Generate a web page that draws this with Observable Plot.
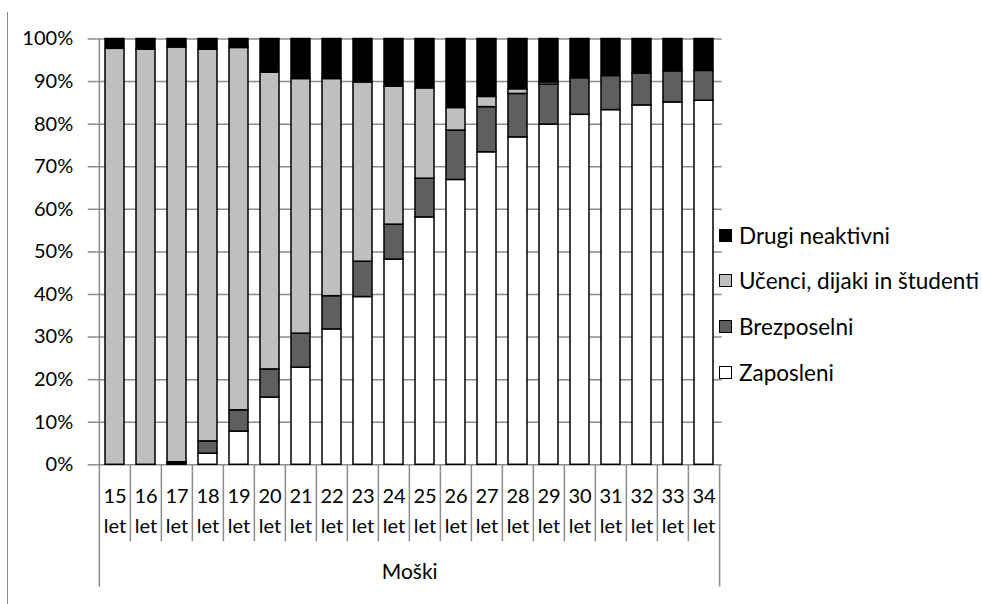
<!DOCTYPE html>
<html>
<head>
<meta charset="utf-8">
<script src="https://cdn.jsdelivr.net/npm/d3@7"></script>
<script src="https://cdn.jsdelivr.net/npm/@observablehq/plot@0.6"></script>
<style>
  html, body { margin: 0; padding: 0; background: #fff; }
  #wrap { position: relative; width: 982px; height: 604px; overflow: hidden; font-family: Lato, "Open Sans", sans-serif; }
  #edge { position: absolute; left: 6.5px; top: 12px; width: 0; height: 600px; border-left: 1.5px solid #8c8c8c; }
  #legend { position: absolute; left: 719px; top: 221px; font-size: 22.5px; color: #000; }
  #legend .item { display: flex; align-items: center; height: 28px; margin-bottom: 17.7px; white-space: nowrap; }
  #legend .sw { width: 11px; height: 11px; border: 1.5px solid #000; margin-right: 7px; box-sizing: content-box; }
</style>
</head>
<body>
<div id="wrap">
  <div id="edge"></div>
  <div id="chart"></div>
  <div id="legend"></div>
</div>
<script>
// Age groups (men), share of each activity status in percent
const ages = ["15","16","17","18","19","20","21","22","23","24","25","26","27","28","29","30","31","32","33","34"];
const zaposleni   = [0, 0, 0.3, 2.6, 7.8, 15.8, 22.8, 31.8, 39.4, 48.2, 58.1, 66.9, 73.4, 76.9, 79.9, 82.2, 83.3, 84.4, 85.1, 85.5];
const brezposelni = [0, 0, 0.3, 2.9, 5.0, 6.6, 8.0, 7.8, 8.3, 8.2, 9.1, 11.6, 10.6, 10.2, 9.4, 8.6, 8.0, 7.5, 7.3, 7.0];
const ucenci      = [97.7, 97.5, 97.4, 92.0, 85.1, 69.7, 59.8, 51.0, 42.1, 32.4, 21.2, 5.3, 2.4, 1.1, 0.5, 0, 0, 0, 0, 0];
const drugi       = [2.3, 2.5, 2.0, 2.5, 2.1, 7.9, 9.4, 9.4, 10.2, 11.2, 11.6, 16.2, 13.6, 11.8, 10.2, 9.2, 8.7, 8.1, 7.6, 7.5];

// Stack order from the bottom up
const statuses = ["Zaposleni", "Brezposelni", "Učenci, dijaki in študenti", "Drugi neaktivni"];
const seriesValues = [zaposleni, brezposelni, ucenci, drugi];
const statusColors = ["#ffffff", "#5f5f5f", "#bfbfbf", "#000000"];
const yTicks = [0, 10, 20, 30, 40, 50, 60, 70, 80, 90, 100];
const groupLabel = "Moški";

const rows = [];
ages.forEach((age, i) => {
  statuses.forEach((s, k) => {
    const v = seriesValues[k][i];
    if (v > 0) rows.push({age, status: s, value: v});
  });
});

const W = 982, H = 604;
const mL = 96.7, mR = W - 721.7, mT = 38.5, mB = H - 464.3;
const step = (W - mL - mR) / ages.length;
const frameH = H - mT - mB;
const gray = "#8c8c8c";

const chart = Plot.plot({
  width: W,
  height: H,
  marginLeft: mL,
  marginRight: mR,
  marginTop: mT,
  marginBottom: mB,
  style: {fontFamily: "Lato, 'Open Sans', sans-serif", fontSize: "20px", color: "#000", background: "transparent", overflow: "visible"},
  x: {domain: ages, paddingInner: 0.38, paddingOuter: 0.19, axis: null},
  y: {domain: [0, 100], axis: null},
  color: {domain: statuses, range: statusColors},
  marks: [
    Plot.gridY(yTicks, {stroke: gray, strokeOpacity: 1, strokeWidth: 1.5}),
    Plot.axisY(yTicks, {
      tickSize: 9, tickPadding: 15, stroke: gray, strokeWidth: 1.5,
      tickFormat: d => `${d}%`, fontSize: 20, label: null
    }),
    // vertical axis line, continued down through the category area
    Plot.ruleX([ages[0]], {x: d => d, dx: -step / 2, stroke: gray, strokeWidth: 1.5, insetBottom: -122.4}),
    // right border of the category area
    Plot.ruleX([ages[ages.length - 1]], {x: d => d, dx: step / 2, stroke: gray, strokeWidth: 1.5, insetTop: frameH, insetBottom: -122.4}),
    // separators between categories
    Plot.ruleX(ages.slice(1), {x: d => d, dx: -step / 2, stroke: gray, strokeWidth: 1.5, insetTop: frameH, insetBottom: -77}),
    Plot.barY(rows, Plot.stackY({
      x: "age", y: "value", fill: "status", order: statuses,
      stroke: "#000", strokeWidth: 1.5
    })),
    Plot.axisX({
      tickSize: 0, tickPadding: 16.5, fontSize: 20, lineHeight: 1.5,
      tickFormat: d => `${d}\nlet`, label: null
    }),
    Plot.text([groupLabel], {frameAnchor: "bottom", dy: 114, fontSize: 21, fill: "#000"})
  ]
});
document.getElementById("chart").appendChild(chart);

// legend, top entry is the top of the stack
const legend = document.getElementById("legend");
statuses.slice().reverse().forEach(s => {
  const item = document.createElement("div");
  item.className = "item";
  const sw = document.createElement("span");
  sw.className = "sw";
  sw.style.background = statusColors[statuses.indexOf(s)];
  const label = document.createElement("span");
  label.textContent = s;
  item.appendChild(sw);
  item.appendChild(label);
  legend.appendChild(item);
});
</script>
</body>
</html>
